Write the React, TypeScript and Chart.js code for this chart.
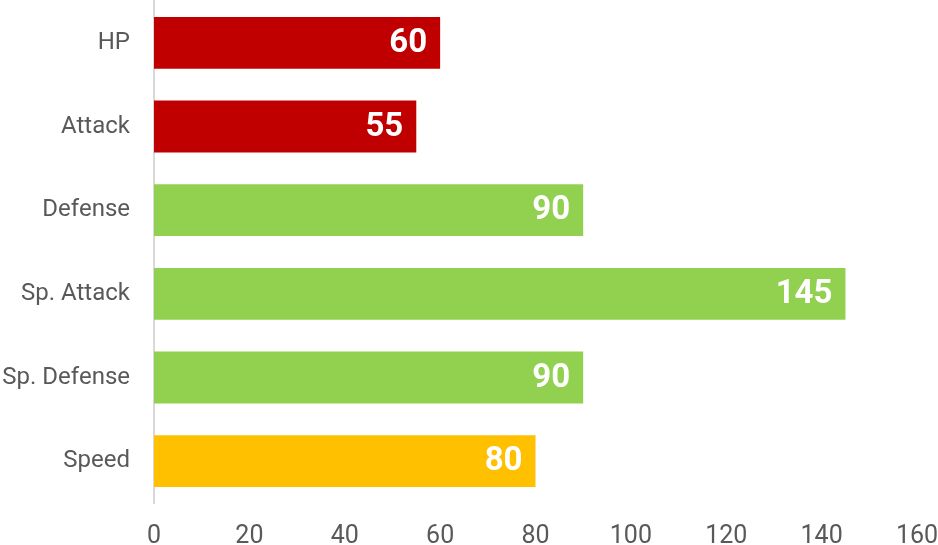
import React, { useEffect, useRef } from "react";
import { Chart, registerables } from "chart.js";

Chart.register(...registerables);

const categories = ["HP", "Attack", "Defense", "Sp. Attack", "Sp. Defense", "Speed"];
const values = [60, 55, 90, 145, 90, 80];
const barColors = ["#C00000", "#C00000", "#92D050", "#92D050", "#92D050", "#FFC000"];
const xTicks = [0, 20, 40, 60, 80, 100, 120, 140, 160];

const FONT = "Roboto";

const valueLabels = {
  id: "valueLabels",
  afterDatasetsDraw(chart: any) {
    const ctx = chart.ctx;
    const meta = chart.getDatasetMeta(0);
    ctx.save();
    ctx.font = `bold 33px ${FONT}`;
    ctx.fillStyle = "#ffffff";
    ctx.textAlign = "right";
    ctx.textBaseline = "middle";
    meta.data.forEach((bar: any, i: number) => {
      ctx.fillText(String(values[i]), bar.x - 13, bar.y + 1);
    });
    ctx.restore();
  },
};

export default function App() {
  const ref = useRef<HTMLCanvasElement | null>(null);
  useEffect(() => {
    document.body.style.margin = "0";
    const chart = new Chart(ref.current!, {
      type: "bar",
      data: {
        labels: categories,
        datasets: [
          {
            data: values,
            backgroundColor: barColors,
            borderWidth: 0,
            categoryPercentage: 0.62,
            barPercentage: 1,
          },
        ],
      },
      options: {
        indexAxis: "y",
        responsive: false,
        animation: false,
        layout: { padding: { top: 1, right: 21, left: 0, bottom: 0 } },
        plugins: { legend: { display: false }, tooltip: { enabled: false } },
        scales: {
          x: {
            min: 0,
            max: 160,
            afterBuildTicks: (s: any) => {
              s.ticks = xTicks.map((v) => ({ value: v }));
            },
            afterFit: (s: any) => {
              s.height = 42;
              s.paddingLeft = 0;
              s.paddingRight = 0;
              s.paddingTop = 0;
              s.paddingBottom = 0;
            },
            grid: { display: false, drawTicks: false },
            border: { display: false },
            ticks: {
              color: "#595959",
              padding: 19,
              font: { family: FONT, size: 25 },
              maxRotation: 0,
            },
          },
          y: {
            afterFit: (s: any) => {
              s.width = 154;
              s.paddingLeft = 0;
              s.paddingRight = 0;
              s.paddingTop = 0;
              s.paddingBottom = 0;
            },
            grid: { display: false, drawTicks: false },
            border: { display: true, color: "#D9D9D9", width: 2 },
            ticks: {
              color: "#595959",
              padding: 24,
              font: { family: FONT, size: 24 },
            },
          },
        },
      },
      plugins: [valueLabels],
    });
    return () => chart.destroy();
  }, []);
  return <canvas ref={ref} width={938} height={545} style={{ display: "block" }} />;
}
